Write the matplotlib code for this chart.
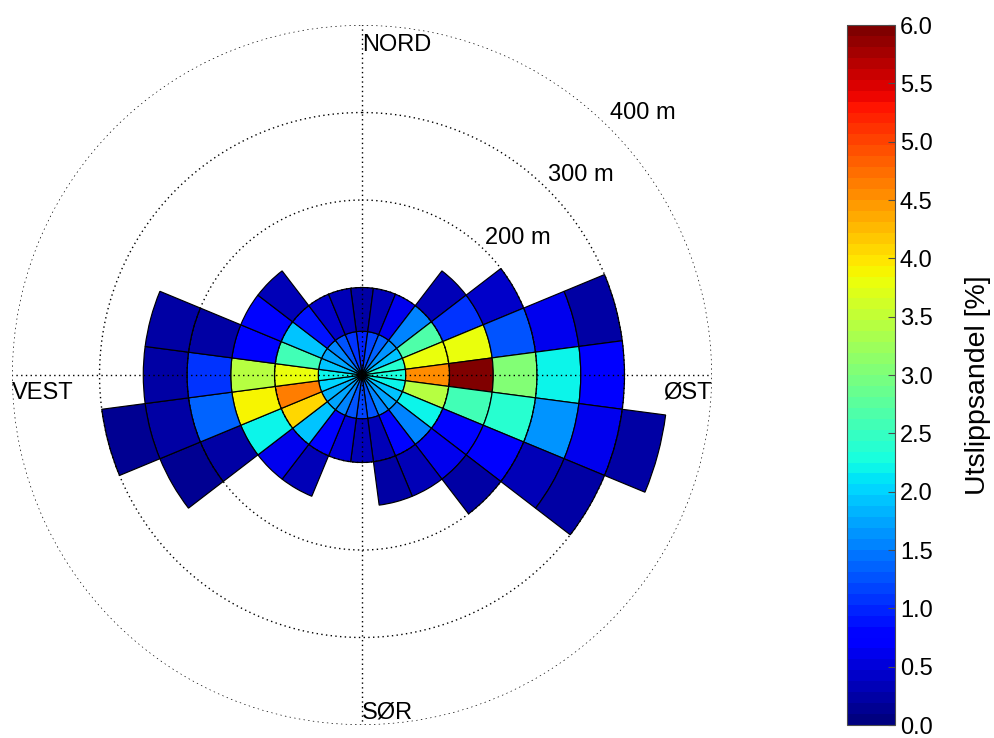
import numpy as np
import matplotlib.pyplot as plt
from matplotlib.colors import Normalize

plt.rcParams['font.family'] = ['Liberation Sans', 'DejaVu Sans']

# retning (grader fra nord, med klokka) og utslippsandel [%] per 50 m-ring
retning = [0, 15, 30, 45, 60, 75, 90, 105, 120, 135, 150, 165,
           180, 195, 210, 225, 240, 255, 270, 285, 300, 315, 330, 345]
andel = [
    [1.0, 0.2],
    [1.2, 0.3],
    [1.4, 0.6],
    [1.6, 1.5, 0.3],
    [1.9, 2.7, 1.1, 0.45],
    [2.4, 3.8, 3.8, 1.3, 0.6, 0.2],
    [2.3, 4.5, 6.0, 3.0, 2.2, 0.7],
    [2.2, 3.4, 2.6, 2.4, 1.6, 0.65, 0.25],
    [1.9, 2.2, 0.8, 0.7, 0.3, 0.2],
    [1.7, 1.5, 0.6, 0.25],
    [1.5, 0.8, 0.3],
    [1.3, 0.35, 0.2],
    [1.2, 0.3],
    [1.3, 0.5],
    [1.5, 0.75, 0.3],
    [1.7, 1.9, 0.6],
    [1.8, 4.1, 2.2, 0.25, 0.15],
    [2.0, 4.6, 3.9, 1.4, 0.2, 0.15],
    [2.2, 3.8, 3.4, 1.1, 0.25],
    [1.9, 2.6, 0.8, 0.25, 0.2],
    [1.7, 1.9, 0.8],
    [1.5, 0.9, 0.3],
    [1.3, 0.45],
    [1.1, 0.3],
]
ring = 50          # m
sektor = 15        # grader
avstander = [100, 200, 300, 400]
vmin, vmax = 0.0, 6.0

cmap = plt.get_cmap('jet', 64)
norm = Normalize(vmin, vmax)

fig = plt.figure(figsize=(9.94, 7.38), dpi=100)
ax = fig.add_axes([0.0121, 0.0176, 0.7042, 0.9485], projection='polar')
ax.set_theta_zero_location('N')
ax.set_theta_direction(-1)

for r, verdier in zip(retning, andel):
    for i, v in enumerate(verdier):
        ax.bar(np.deg2rad(r), ring, width=np.deg2rad(sektor), bottom=i * ring,
               color=cmap(norm(v)), edgecolor='k', linewidth=0.85, zorder=2)

# stiplete rutenett
t = np.linspace(0, 2 * np.pi, 721)
for d in avstander:
    ax.plot(t, np.full_like(t, d), color='k', lw=1.0, ls=(0, (1, 2.4)), zorder=3)
for a in [0, 90, 180, 270]:
    ax.plot([np.deg2rad(a)] * 2, [0, 400], color='k', lw=1.0, ls=(0, (1, 2.4)), zorder=3)

ax.set_ylim(0, 400)
ax.set_xticks([])
ax.set_yticks([])
ax.grid(False)
ax.spines['polar'].set_visible(False)

fs = 17
ax.text(0, 377, 'NORD', ha='left', va='center', fontsize=fs)
ax.text(np.pi, 386, 'SØR', ha='left', va='center', fontsize=fs)
ax.text(np.deg2rad(268.9), 400, 'VEST', ha='left', va='top', fontsize=fs)
ax.text(np.deg2rad(91.1), 400, 'ØST', ha='right', va='top', fontsize=fs)
for d, b, rr in zip([200, 300, 400], [41.9, 42.9, 43.4], [210, 312, 412.5]):
    ax.text(np.deg2rad(b), rr, f'{d} m', ha='left', va='center', fontsize=fs)

cax = fig.add_axes([0.852, 0.0176, 0.0483, 0.9485])
sm = plt.cm.ScalarMappable(norm=norm, cmap=cmap)
cb = fig.colorbar(sm, cax=cax, ticks=np.arange(0, 6.01, 0.5))
cb.ax.set_yticklabels([f'{v:.1f}' for v in np.arange(0, 6.01, 0.5)])
cb.ax.tick_params(labelsize=fs, direction='in', length=5, color='0.3')
cb.outline.set_edgecolor('0.3')
cb.set_label('Utslippsandel [%]', fontsize=20.5, labelpad=23, y=0.486)

fig.savefig('out.png', dpi=100)
